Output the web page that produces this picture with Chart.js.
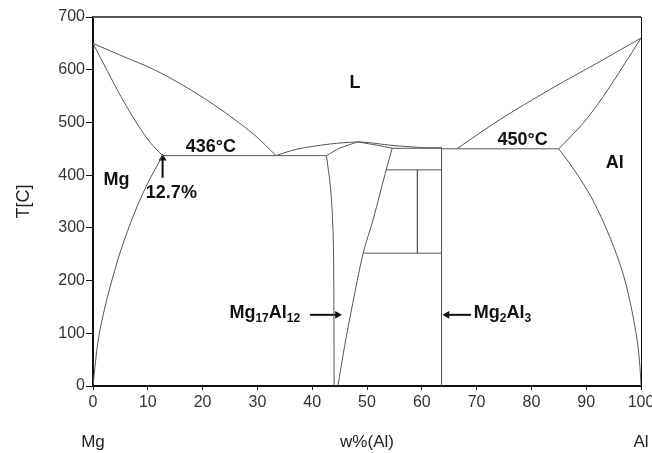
<!DOCTYPE html>
<html>
<head>
<meta charset="utf-8">
<script src="https://cdn.jsdelivr.net/npm/chart.js@4.4.1/dist/chart.umd.min.js"></script>
<style>
  html, body { margin: 0; padding: 0; background: #fff; }
  #wrap { width: 652px; height: 453px; }
</style>
</head>
<body>
<div id="wrap"><canvas id="c"></canvas></div>
<script>
// tick values
var xTicks = [0, 10, 20, 30, 40, 50, 60, 70, 80, 90, 100];
var yTicks = [0, 100, 200, 300, 400, 500, 600, 700];

// phase boundaries, [w%Al, T]
var mgLiquidus   = [[0,650],[5.1,627],[11.2,600],[17.3,565],[23.4,524],[29.5,476],[33.4,437]];
var mgSolidus    = [[0,650],[2.7,596],[5.1,549],[8.2,495],[10.6,460],[12.7,437]];
var mgSolvus     = [[12.7,437],[10,385],[7.55,328],[5.1,258],[3.3,195],[1.77,131],[0.86,81],[0.37,37],[0,0]];
var eutecticMg   = [[12.7,437],[42.6,437]];
var gammaLiquidus = [[33.4,437],[37.1,449],[43.2,459],[48.3,463],[50.5,461.5],[54.1,457],[59,453],[61,452],[63.6,452]];
var gammaSolidusL = [[42.6,437],[45,451],[48.3,463]];
var gammaSolidusR = [[48.3,463],[51.7,457],[54.6,451]];
var gammaLeft    = [[42.6,437],[43.3,380],[43.7,320],[43.9,250],[44,0]];
var gammaRight   = [[54.6,451],[53.5,410],[51.1,315],[49.3,252],[47.4,157],[45.9,75],[44.7,0]];
var betaTop      = [[54.6,451],[63.6,451]];
var betaLine     = [[63.6,452],[63.6,0]];
var boxTop       = [[53.5,410],[63.6,410]];
var boxMid       = [[59.2,410],[59.2,252]];
var boxBottom    = [[49.3,252],[63.6,252]];
var eutecticAl   = [[63.6,450],[85,450]];
var alLiquidus   = [[66.4,450],[74.2,505],[83.3,562],[92.4,615],[100,660]];
var alSolidus    = [[85,450],[89.4,498],[93.1,549],[96.7,606],[100,660]];
var alSolvus     = [[85,450],[88.2,404],[91.2,353],[94.3,283],[96.7,214],[98.2,150],[99.3,87],[99.8,37],[100,0]];

// arrows, tail first, head last
var arrow127   = [[12.7,395],[12.7,432]];
var arrowGamma = [[39.6,135],[44.6,135]];
var arrowBeta  = [[69,135],[64.6,135]];

// region labels
var labelText = ['L', '436°C', '450°C', 'Mg', 'Al', '12.7%'];
var labelX    = [47.8, 21.5, 78.4, 4.3, 95.2, 14.3];
var labelT    = [575, 453.5, 467, 391, 423, 366];

// bottom labels under the axis
var bottomText = ['Mg', 'w%(Al)', 'Al'];
var bottomX    = [0, 50, 100];

function pts(arr) {
    return arr.map(function (p) { return {x: p[0], y: p[1]}; });
}

var curves = [mgLiquidus, mgSolidus, mgSolvus, gammaLiquidus, gammaSolidusL, gammaSolidusR,
              gammaLeft, gammaRight, alLiquidus, alSolidus, alSolvus];
var straights = [eutecticMg, betaTop, betaLine, boxTop, boxMid, boxBottom, eutecticAl];

var datasets = [];
curves.forEach(function (c) {
    datasets.push({data: pts(c), showLine: true, borderColor: '#555', borderWidth: 1,
                   pointRadius: 0, tension: 0.3});
});
straights.forEach(function (c) {
    datasets.push({data: pts(c), showLine: true, borderColor: '#555', borderWidth: 1,
                   pointRadius: 0, tension: 0});
});
[[arrow127, 0], [arrowGamma, 90], [arrowBeta, -90]].forEach(function (a) {
    datasets.push({data: pts(a[0]), showLine: true, borderColor: '#111', borderWidth: 2,
                   pointRadius: [0, 4.5], pointStyle: 'triangle', pointRotation: a[1],
                   pointBackgroundColor: '#111', pointBorderColor: '#111', pointBorderWidth: 0,
                   tension: 0});
});

var labelFont = "bold 18px 'Liberation Sans Narrow', 'Arial Narrow', 'Liberation Sans', Arial, sans-serif";
var subFont = "bold 12px 'Liberation Sans Narrow', 'Arial Narrow', 'Liberation Sans', Arial, sans-serif";

function drawParts(ctx, parts, x, y, align) {
    var w = 0;
    parts.forEach(function (p) {
        ctx.font = p[1] ? subFont : labelFont;
        w += ctx.measureText(p[0]).width;
    });
    var cx = align === 'right' ? x - w : x;
    ctx.textAlign = 'left';
    parts.forEach(function (p) {
        ctx.font = p[1] ? subFont : labelFont;
        ctx.fillText(p[0], cx, p[1] ? y + 5 : y);
        cx += ctx.measureText(p[0]).width;
    });
}

var decorPlugin = {
    id: 'decor',
    afterDatasetsDraw: function (chart) {
        var ctx = chart.ctx, a = chart.chartArea;
        var xs = chart.scales.x, ys = chart.scales.y;
        ctx.save();
        // frame top and right
        ctx.strokeStyle = '#555';
        ctx.lineWidth = 2;
        ctx.beginPath();
        ctx.moveTo(a.left, a.top);
        ctx.lineTo(a.right, a.top);
        ctx.stroke();
        ctx.strokeStyle = '#111';
        ctx.lineWidth = 1;
        ctx.beginPath();
        ctx.moveTo(a.right + 0.5, a.top);
        ctx.lineTo(a.right + 0.5, a.bottom);
        ctx.stroke();

        ctx.fillStyle = '#111';
        ctx.textBaseline = 'middle';
        ctx.font = labelFont;
        ctx.textAlign = 'center';
        for (var i = 0; i < labelText.length; i++) {
            ctx.fillText(labelText[i], xs.getPixelForValue(labelX[i]), ys.getPixelForValue(labelT[i]));
        }
        drawParts(ctx, [['Mg', 0], ['17', 1], ['Al', 0], ['12', 1]],
                  xs.getPixelForValue(37.8), ys.getPixelForValue(138), 'right');
        drawParts(ctx, [['Mg', 0], ['2', 1], ['Al', 0], ['3', 1]],
                  xs.getPixelForValue(69.5), ys.getPixelForValue(138), 'left');

        ctx.font = "17px 'Liberation Sans', Arial, sans-serif";
        ctx.fillStyle = '#222';
        ctx.textAlign = 'center';
        for (var j = 0; j < bottomText.length; j++) {
            ctx.fillText(bottomText[j], xs.getPixelForValue(bottomX[j]), a.bottom + 56);
        }
        ctx.restore();
    }
};

Chart.defaults.font.family = "'Liberation Sans', Arial, sans-serif";

new Chart(document.getElementById('c'), {
    type: 'scatter',
    data: {datasets: datasets},
    plugins: [decorPlugin],
    options: {
        responsive: true,
        maintainAspectRatio: false,
        animation: false,
        layout: {padding: {top: 17, right: 11, left: 0, bottom: 0}},
        plugins: {legend: {display: false}, tooltip: {enabled: false}},
        elements: {line: {borderCapStyle: 'butt'}},
        scales: {
            x: {
                type: 'linear', min: 0, max: 100,
                afterBuildTicks: function (s) { s.ticks = xTicks.map(function (v) { return {value: v}; }); },
                afterFit: function (s) { s.height = 67; s.paddingLeft = 0; s.paddingRight = 0; },
                grid: {display: true, drawOnChartArea: false, drawTicks: true, tickLength: 4, color: '#111'},
                border: {display: true, color: '#111', width: 2},
                ticks: {color: '#333', font: {size: 16}, padding: 3, maxRotation: 0, autoSkip: false}
            },
            y: {
                type: 'linear', min: 0, max: 700,
                afterBuildTicks: function (s) { s.ticks = yTicks.map(function (v) { return {value: v}; }); },
                afterFit: function (s) { s.width = 93; },
                grid: {display: true, drawOnChartArea: false, drawTicks: true, tickLength: 7, color: '#111'},
                border: {display: true, color: '#111', width: 2},
                ticks: {color: '#333', font: {size: 16}, padding: 1, autoSkip: false},
                title: {display: true, text: 'T[C]', color: '#222', font: {size: 18}, padding: {top: 13, bottom: 0}}
            }
        }
    }
});
</script>
</body>
</html>
